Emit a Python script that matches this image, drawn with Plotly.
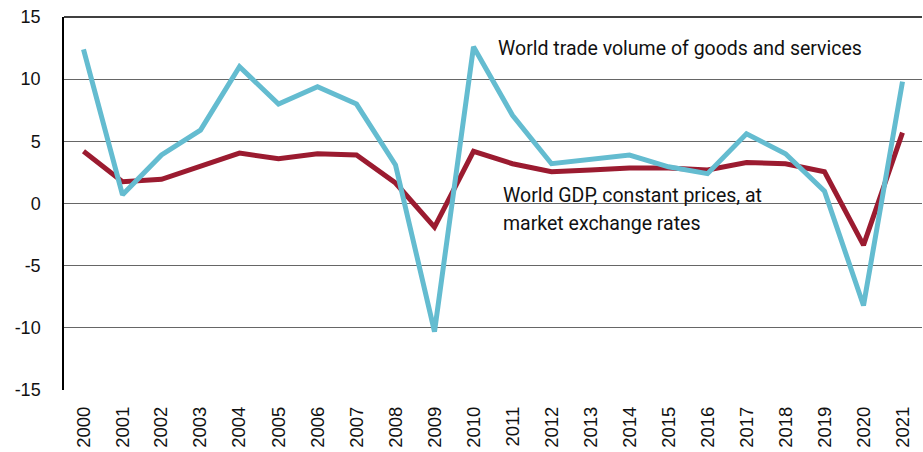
import plotly.graph_objects as go

years = list(range(2000, 2022))
year_labels = [str(y) for y in years]
trade_volume = [12.4, 0.7, 3.9, 5.9, 11.0, 8.0, 9.4, 8.0, 3.1, -10.3, 12.6, 7.1,
                3.2, 3.55, 3.9, 2.95, 2.4, 5.6, 4.0, 1.0, -8.2, 9.8]
world_gdp = [4.2, 1.75, 1.95, 2.95, 4.05, 3.6, 4.0, 3.9, 1.65, -1.9, 4.2, 3.2,
             2.55, 2.7, 2.85, 2.85, 2.7, 3.3, 3.2, 2.55, -3.35, 5.7]
y_ticks = [-15, -10, -5, 0, 5, 10, 15]
y_tick_labels = ["-15", "-10", "-5", "0", "5", "10", "15"]

fig = go.Figure()
fig.add_trace(go.Scatter(x=years, y=world_gdp, mode="lines",
                         line=dict(color="#9B1B30", width=5), name="World GDP"))
fig.add_trace(go.Scatter(x=years, y=trade_volume, mode="lines",
                         line=dict(color="#64BCD0", width=5), name="World trade"))

ann_font = dict(family="Roboto", size=19.5, color="#111")
fig.add_annotation(x=2010.58, y=12.5, text="World trade volume of goods and services",
                   showarrow=False, xanchor="left", yanchor="middle", font=ann_font)
fig.add_annotation(x=2010.7, y=0.68, text="World GDP, constant prices, at",
                   showarrow=False, xanchor="left", yanchor="middle", font=ann_font)
fig.add_annotation(x=2010.7, y=-1.57, text="market exchange rates",
                   showarrow=False, xanchor="left", yanchor="middle", font=ann_font)

fig.add_shape(type="line", xref="paper", yref="paper", x0=0, x1=1, y0=1, y1=1,
              line=dict(color="black", width=1.5))

fig.update_layout(
    width=923, height=452,
    margin=dict(l=64, r=1, t=17, b=62, autoexpand=False),
    plot_bgcolor="white", paper_bgcolor="white",
    showlegend=False,
    font=dict(family="Liberation Sans", size=18, color="#111"),
)
fig.update_xaxes(range=[1999.5, 2021.5], tickvals=years, ticktext=year_labels,
                 tickangle=-90, showgrid=False, zeroline=False, showline=False,
                 ticks="", ticklen=0, tickfont=dict(size=18.5), automargin=False,
                 ticklabelstandoff=12)
fig.update_yaxes(range=[-15, 15], tickvals=y_ticks, ticktext=y_tick_labels,
                 showgrid=True, gridcolor="#666", gridwidth=1, zeroline=False,
                 showline=True, linecolor="black", linewidth=1.5,
                 ticks="", tickfont=dict(size=18), automargin=False,
                 ticklabelstandoff=18)

fig.write_html("out.html", config={"displayModeBar": False},
               post_script="document.body.style.margin='0px';document.body.style.overflow='hidden';")
